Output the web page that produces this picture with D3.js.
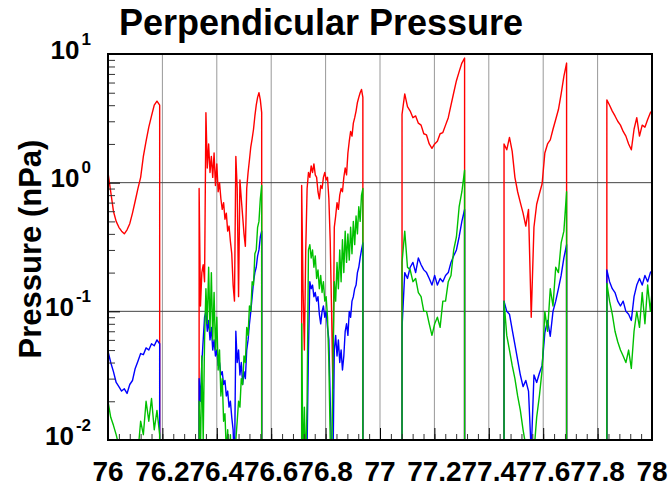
<!DOCTYPE html>
<html lang="en">
<head>
  <meta charset="UTF-8">
  <title>Perpendicular Pressure</title>
  <style>
    * { margin: 0; padding: 0; }
    body { background: #fff; width: 671px; height: 486px; overflow: hidden; }
    svg { display: block; font-family: 'Liberation Sans', Arial, sans-serif; }
  </style>
</head>
<body>
  <svg width="671" height="486"></svg>
  <script src="https://d3js.org/d3.v7.min.js"></script>
  <script>
    // tick labels
    const xTicks = [76, 76.2, 76.4, 76.6, 76.8, 77, 77.2, 77.4, 77.6, 77.8, 78];
    const xTickLabels = ['76', '76.2', '76.4', '76.6', '76.8', '77', '77.2', '77.4', '77.6', '77.8', '78'];
    const yTicks = [0.01, 0.1, 1, 10];
    const yTickExp = ['-2', '-1', '0', '1'];

    // each orbit pass: start time (h) and sample step (h)
    const segStart = [76.0, 76.335, 76.712, 77.081, 77.456, 77.834];
    const segStep = [0.01, 0.005, 0.005, 0.01, 0.01, 0.01];

    // pressure values (nPa) per pass
    const red = [
      [1.2,0.85,0.6,0.5,0.45,0.42,0.4,0.43,0.48,0.58,0.72,0.9,1.1,1.6,2.1,2.7,3.3,4.0,4.3,4.0],
      [0.9,0.11,0.2,0.23,0.17,3.5,1.3,2.0,1.2,1.6,1.1,1.7,0.95,1.4,0.85,1.0,0.75,0.62,0.7,0.52,0.58,0.42,0.46,0.35,0.28,0.16,0.12,1.6,0.9,0.13,1.05,0.75,0.55,0.4,0.32,0.9,1.2,1.5,1.9,2.2,2.6,3.3,4.0,4.6,5.0,4.4,3.5],
      [0.95,0.15,0.05,0.3,0.9,1.2,1.1,1.35,1.2,1.4,1.15,1.1,0.85,0.75,0.95,0.9,1.1,1.2,1.05,1.1,0.75,0.35,0.1,0.025,0.45,0.55,0.7,0.62,0.8,0.9,0.85,1.1,1.3,1.15,1.7,2.1,2.5,2.3,2.9,3.2,3.6,4.2,4.6,5.0,5.3,4.6],
      [3.4,4.9,3.9,3.6,3.2,3.3,2.9,2.8,2.4,2.35,2.0,1.85,2.0,2.1,2.4,2.45,2.8,3.2,4.0,5.0,6.2,7.3,8.5,9.3],
      [2.0,1.8,2.25,1.75,1.1,0.85,0.7,0.58,0.46,0.62,0.09,0.45,0.68,0.82,0.98,1.7,2.0,2.15,2.6,3.1,3.7,4.9,6.7,8.5],
      [4.4,4.0,3.6,3.3,3.0,2.8,2.5,2.3,2.0,1.8,2.6,3.2,2.3,2.8,2.7,3.1,3.5,3.7]
    ];
    const blue = [
      [0.049,0.04,0.034,0.028,0.026,0.024,0.025,0.023,0.027,0.029,0.036,0.041,0.047,0.046,0.052,0.05,0.056,0.054,0.06,0.056],
      [0.03,0.02,0.04,0.06,0.09,0.1,0.07,0.085,0.06,0.075,0.05,0.06,0.045,0.05,0.038,0.04,0.032,0.034,0.027,0.029,0.022,0.024,0.018,0.02,0.015,0.012,0.006,0.07,0.04,0.05,0.032,0.04,0.027,0.034,0.03,0.05,0.06,0.08,0.1,0.13,0.17,0.2,0.22,0.27,0.3,0.38,0.42],
      [0.006,0.005,0.005,0.006,0.009,0.05,0.17,0.15,0.16,0.13,0.14,0.12,0.13,0.095,0.08,0.1,0.11,0.09,0.1,0.075,0.06,0.02,0.008,0.006,0.05,0.065,0.045,0.06,0.04,0.05,0.035,0.045,0.07,0.08,0.065,0.1,0.09,0.12,0.13,0.15,0.16,0.2,0.22,0.26,0.3,0.34],
      [0.075,0.2,0.18,0.22,0.24,0.2,0.26,0.23,0.21,0.2,0.18,0.16,0.19,0.16,0.18,0.17,0.19,0.2,0.24,0.27,0.3,0.38,0.5,0.62],
      [0.12,0.1,0.095,0.072,0.055,0.042,0.032,0.026,0.029,0.024,0.008,0.032,0.028,0.033,0.038,0.068,0.085,0.064,0.1,0.12,0.15,0.19,0.26,0.33],
      [0.21,0.17,0.15,0.14,0.12,0.11,0.12,0.1,0.095,0.085,0.13,0.16,0.18,0.16,0.19,0.17,0.2,0.21]
    ];
    const green = [
      [0.02,0.015,0.013,0.011,0.009,0.006,0.005,0.005,0.005,0.007,0.01,0.008,0.014,0.011,0.02,0.014,0.021,0.012,0.017,0.011],
      [0.02,0.008,0.045,0.01,0.06,0.15,0.08,0.22,0.07,0.2,0.06,0.14,0.05,0.09,0.035,0.05,0.022,0.03,0.014,0.016,0.008,0.012,0.006,0.011,0.005,0.007,0.005,0.01,0.014,0.02,0.018,0.03,0.027,0.045,0.04,0.075,0.065,0.11,0.1,0.17,0.16,0.28,0.3,0.45,0.5,0.75,0.95],
      [0.08,0.006,0.018,0.006,0.02,0.3,0.33,0.26,0.3,0.22,0.27,0.18,0.21,0.15,0.19,0.14,0.17,0.12,0.13,0.09,0.04,0.01,0.005,0.04,0.17,0.12,0.24,0.15,0.3,0.17,0.36,0.2,0.42,0.24,0.4,0.25,0.45,0.28,0.5,0.33,0.55,0.4,0.65,0.5,0.8,0.9],
      [0.24,0.42,0.22,0.21,0.17,0.18,0.14,0.13,0.1,0.1,0.08,0.065,0.08,0.09,0.075,0.12,0.12,0.17,0.19,0.3,0.38,0.65,0.85,1.25],
      [0.12,0.065,0.05,0.038,0.03,0.022,0.017,0.012,0.009,0.006,0.005,0.008,0.015,0.022,0.035,0.1,0.07,0.15,0.11,0.22,0.2,0.34,0.42,0.85],
      [0.165,0.12,0.095,0.07,0.058,0.05,0.045,0.04,0.05,0.036,0.07,0.1,0.075,0.14,0.08,0.16,0.1,0.18]
    ];

    const plotLeft = 108, plotRight = 652, plotTop = 54, plotBottom = 440;
    const floor = 0.001; // data gaps drop below the axis

    const svg = d3.select('svg');
    const x = d3.scaleLinear().domain([76, 78]).range([plotLeft, plotRight]);
    const y = d3.scaleLog().domain([0.01, 10]).range([plotBottom, plotTop]);

    svg.append('defs').append('clipPath').attr('id', 'plot')
      .append('rect')
      .attr('x', plotLeft).attr('y', plotTop)
      .attr('width', plotRight - plotLeft).attr('height', plotBottom - plotTop);

    // grid
    svg.append('g').selectAll('line')
      .data(xTicks.slice(1, -1))
      .join('line')
      .attr('x1', d => x(d)).attr('x2', d => x(d))
      .attr('y1', plotTop).attr('y2', plotBottom)
      .attr('stroke', '#999').attr('stroke-width', 1);
    svg.append('g').selectAll('line')
      .data(yTicks.slice(1, -1))
      .join('line')
      .attr('x1', plotLeft).attr('x2', plotRight)
      .attr('y1', d => y(d)).attr('y2', d => y(d))
      .attr('stroke', '#444').attr('stroke-width', 1);

    // series
    const line = d3.line()
      .x(d => x(d[0]))
      .y(d => y(Math.max(d[1], floor)));

    function passPoints(vals, k) {
      const pts = vals.map((v, i) => [segStart[k] + i * segStep[k], v]);
      const xEnd = pts[pts.length - 1][0];
      return [[segStart[k], floor], ...pts, [xEnd, floor]];
    }

    const plot = svg.append('g').attr('clip-path', 'url(#plot)');
    [[red, '#ff0000'], [blue, '#0000ff'], [green, '#00c000']].forEach(([series, color]) => {
      plot.append('g').selectAll('path')
        .data(series.map(passPoints))
        .join('path')
        .attr('d', line)
        .attr('fill', 'none')
        .attr('stroke', color)
        .attr('stroke-width', 1.4)
        .attr('stroke-linejoin', 'round');
    });

    // y axis ticks (inside)
    const yMinor = y.ticks().filter(d => !yTicks.includes(d));
    svg.append('g')
      .attr('transform', 'translate(' + plotLeft + ',0)')
      .call(d3.axisRight(y).tickValues(yMinor).tickSize(7).tickFormat('').tickSizeOuter(0))
      .call(g => g.select('.domain').remove())
      .call(g => g.selectAll('line').attr('stroke', '#333'));
    svg.append('g')
      .attr('transform', 'translate(' + plotLeft + ',0)')
      .call(d3.axisRight(y).tickValues(yTicks).tickSize(12).tickFormat('').tickSizeOuter(0))
      .call(g => g.select('.domain').remove())
      .call(g => g.selectAll('line').attr('stroke', '#000'));

    // x axis ticks (inside)
    const xMinor = d3.range(0, 51).map(i => 76 + i * 0.04);
    svg.append('g')
      .attr('transform', 'translate(0,' + plotBottom + ')')
      .call(d3.axisTop(x).tickValues(xMinor).tickSize(6).tickFormat('').tickSizeOuter(0))
      .call(g => g.select('.domain').remove())
      .call(g => g.selectAll('line').attr('stroke', '#333'));
    svg.append('g')
      .attr('transform', 'translate(0,' + plotBottom + ')')
      .call(d3.axisTop(x).tickValues(xTicks).tickSize(12).tickFormat('').tickSizeOuter(0))
      .call(g => g.select('.domain').remove())
      .call(g => g.selectAll('line').attr('stroke', '#000'));

    // frame
    svg.append('rect')
      .attr('x', plotLeft).attr('y', plotTop)
      .attr('width', plotRight - plotLeft).attr('height', plotBottom - plotTop)
      .attr('fill', 'none').attr('stroke', '#000').attr('stroke-width', 2);

    // x tick labels
    svg.append('g').selectAll('text')
      .data(xTicks)
      .join('text')
      .attr('x', d => x(d))
      .attr('y', 481)
      .attr('text-anchor', 'middle')
      .attr('font-size', 28)
      .attr('font-weight', 'bold')
      .text((d, i) => xTickLabels[i]);

    // y tick labels: 10 with superscript exponent
    const yl = svg.append('g').selectAll('text')
      .data(yTicks)
      .join('text')
      .attr('x', 91)
      .attr('y', d => y(d) + 4.5)
      .attr('text-anchor', 'end')
      .attr('font-weight', 'bold');
    yl.append('tspan').attr('font-size', 26).text('10');
    yl.append('tspan').attr('font-size', 17).attr('dy', -14)
      .attr('dx', 2)
      .text((d, i) => yTickExp[i]);

    // titles
    svg.append('text')
      .attr('x', 321).attr('y', 35)
      .attr('text-anchor', 'middle')
      .attr('font-size', 36)
      .attr('font-weight', 'bold')
      .text('Perpendicular Pressure');

    svg.append('text')
      .attr('transform', 'rotate(-90)')
      .attr('x', -249).attr('y', 41)
      .attr('text-anchor', 'middle')
      .attr('font-size', 31)
      .attr('font-weight', 'bold')
      .text('Pressure (nPa)');
  </script>
</body>
</html>
